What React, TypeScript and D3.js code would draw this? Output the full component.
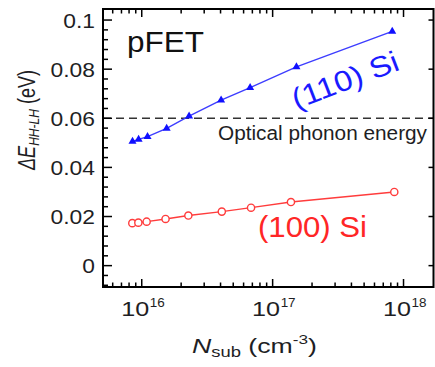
import React from "react";
import * as d3 from "d3";

const blueN = [8.5e15, 9.46e15, 1.107e16, 1.55e16, 2.3e16, 4.04e16, 6.73e16, 1.52e17, 8.2e17];
const blueE = [0.0506, 0.0514, 0.0525, 0.0559, 0.0609, 0.0674, 0.0725, 0.0809, 0.0954];
const redN = [8.47e15, 9.42e15, 1.09e16, 1.52e16, 2.27e16, 4.09e16, 6.84e16, 1.38e17, 8.5e17];
const redE = [0.0173, 0.0175, 0.0179, 0.019, 0.0204, 0.022, 0.0236, 0.0259, 0.03];
const yTicks = [0, 0.02, 0.04, 0.06, 0.08, 0.1];
const yTickLabels = ["0", "0.02", "0.04", "0.06", "0.08", "0.1"];
const xDecades = [16, 17, 18];
const phononEnergy = 0.06;

const W = 435;
const H = 367;
const L = 103, R = 433.5, T = 9, B = 287;

export default function App() {
  const x = d3.scaleLog().domain([Math.pow(10, 15.704), Math.pow(10, 18.229)]).range([L, R]);
  const y = d3.scaleLinear().domain([-0.0087, 0.1045]).range([B, T]);

  const blue = blueN.map((n, i) => [n, blueE[i]] as [number, number]);
  const red = redN.map((n, i) => [n, redE[i]] as [number, number]);
  const line = d3.line<[number, number]>().x((d) => x(d[0])).y((d) => y(d[1]));
  const tri = d3.symbol().type(d3.symbolTriangle).size(28)()!;

  const yMinor: number[] = [];
  for (let v = -0.008; v <= 0.104; v += 0.004) yMinor.push(+v.toFixed(3));
  const xMinor: number[] = [];
  for (let e = 15; e <= 18; e++) for (let m = 2; m <= 9; m++) {
    const v = m * Math.pow(10, e);
    const px = x(v);
    if (px > L + 1 && px < R - 1) xMinor.push(v);
  }

  const txt = "#1e1e24";
  const font = "Liberation Sans, Arial, sans-serif";

  return (
    <svg width={W} height={H} style={{ position: "absolute", left: 0, top: 0, background: "#fff" }} fontFamily={font}>
      <rect x={0} y={0} width={W} height={H} fill="#fff" />
      <line x1={L} x2={R} y1={y(phononEnergy)} y2={y(phononEnergy)} stroke="#333" strokeWidth={1.5} strokeDasharray="8,5" />
      <text x={218} y={140} fontSize={19.5} fill={txt} textLength={209} lengthAdjust="spacingAndGlyphs">Optical phonon energy</text>

      <path d={line(blue)!} fill="none" stroke="#3d3dff" strokeWidth={1.4} />
      {blue.map((d, i) => (
        <path key={"b" + i} d={tri} transform={`translate(${x(d[0])},${y(d[1])})`} fill="#1010ff" />
      ))}
      <path d={line(red)!} fill="none" stroke="#ff3c3c" strokeWidth={1.4} />
      {red.map((d, i) => (
        <circle key={"r" + i} cx={x(d[0])} cy={y(d[1])} r={3.6} fill="#fff" stroke="#ff3c3c" strokeWidth={1.4} />
      ))}

      <text x={127} y={52} fontSize={30} fill="#111" textLength={77} lengthAdjust="spacingAndGlyphs">pFET</text>
      <g transform={`translate(345,80) rotate(-21)`}>
        <text x={0} y={0} dy="0.35em" textAnchor="middle" fontSize={29} fill="#1a1aff" textLength={112} lengthAdjust="spacingAndGlyphs">(110) Si</text>
      </g>
      <text x={312.5} y={236.7} textAnchor="middle" fontSize={29} fill="#ff2626" textLength={109} lengthAdjust="spacingAndGlyphs">(100) Si</text>

      <rect x={L} y={T} width={R - L} height={B - T} fill="none" stroke="#000" strokeWidth={2} />

      {yMinor.map((v, i) => {
        const isMajor = yTicks.some((t) => Math.abs(t - v) < 1e-6);
        return (
          <line key={"ym" + i} x1={L} x2={L + (isMajor ? 9 : 5)} y1={y(v)} y2={y(v)} stroke="#000" strokeWidth={1.5} />
        );
      })}
      {yTicks.map((v, i) => (
        <line key={"yr" + i} x1={R} x2={R - 5} y1={y(v)} y2={y(v)} stroke="#000" strokeWidth={1.5} />
      ))}
      {yTicks.map((v, i) => {
        const lab = yTickLabels[i];
        const natural = (lab.length === 1 ? 0.556 : lab.length === 3 ? 1.39 : 1.946) * 19.5;
        return (
          <text key={"yl" + i} x={95} y={y(v) + 7.5} textAnchor="end" fontSize={19.5} fill={txt}
            textLength={natural * 1.17} lengthAdjust="spacingAndGlyphs">{lab}</text>
        );
      })}

      {xDecades.map((e) => {
        const px = x(Math.pow(10, e));
        return (
          <g key={"xd" + e}>
            <line x1={px} x2={px} y1={B} y2={B - 8} stroke="#000" strokeWidth={1.5} />
            <line x1={px} x2={px} y1={T} y2={T + 8} stroke="#000" strokeWidth={1.5} />
            <text x={px + 7.5} y={315.5} textAnchor="end" fontSize={20.5} fill={txt} textLength={28} lengthAdjust="spacingAndGlyphs">10</text>
            <text x={px + 8} y={307} fontSize={13.5} fill={txt} textLength={15} lengthAdjust="spacingAndGlyphs">{String(e)}</text>
          </g>
        );
      })}
      {xMinor.map((v, i) => {
        const px = x(v);
        return (
          <g key={"xm" + i}>
            <line x1={px} x2={px} y1={B} y2={B - 4.5} stroke="#000" strokeWidth={1.5} />
            <line x1={px} x2={px} y1={T} y2={T + 4.5} stroke="#000" strokeWidth={1.5} />
          </g>
        );
      })}

      <g transform="translate(192,353) scale(1.27,1)">
        <text x={0} y={0} fontSize={21} fill={txt}>
          <tspan fontStyle="italic">N</tspan>
          <tspan fontSize={14.5} dy={4}>sub</tspan>
          <tspan dy={-4}> (cm</tspan>
          <tspan fontSize={13.5} dy={-9}>-3</tspan>
          <tspan dy={9}>)</tspan>
        </text>
      </g>
      <g transform="translate(35,170) rotate(-90) scale(0.86,1.1)">
        <text x={0} y={0} fontSize={21} fill={txt}>
          <tspan fontStyle="italic">ΔE</tspan>
          <tspan fontStyle="italic" fontSize={14} dy={4}>HH-LH</tspan>
          <tspan dy={-4}> (eV)</tspan>
        </text>
      </g>
    </svg>
  );
}
